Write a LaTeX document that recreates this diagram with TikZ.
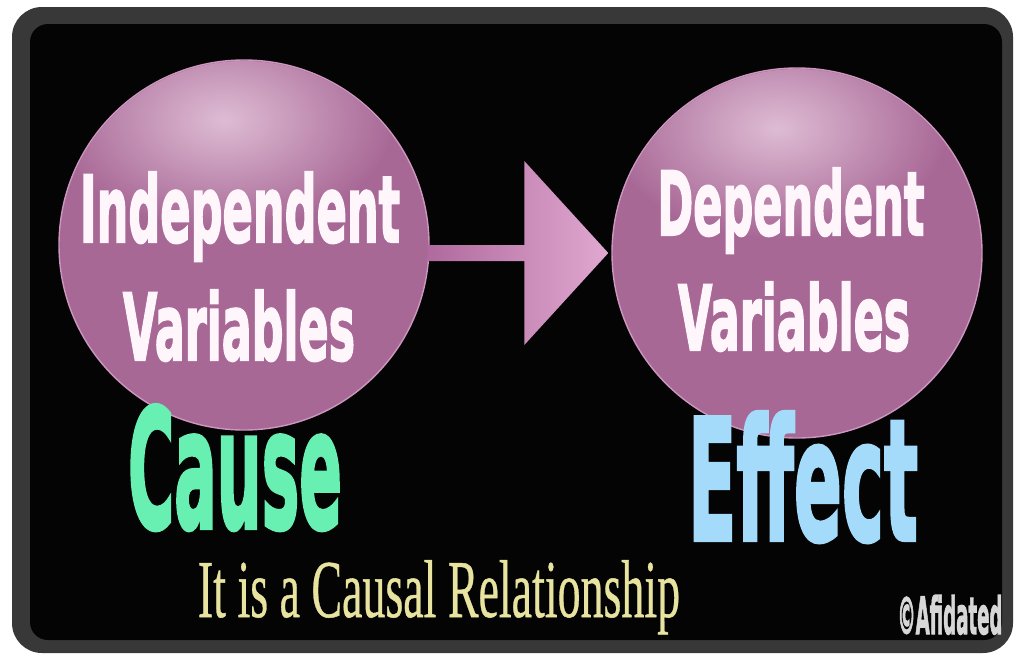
\documentclass[tikz,border=0pt]{standalone}
\usepackage{fontspec}
\usepackage{graphicx}
\setmainfont{Liberation Serif}
\newfontfamily\heavy{DejaVu Sans}[BoldFeatures={FakeBold=2.5}]
\newfontfamily\serifcap{Liberation Serif}[FakeBold=0.6]
\usetikzlibrary{calc}
\definecolor{framegray}{RGB}{56,56,56}
\definecolor{bgblack}{RGB}{4,4,4}
\definecolor{pinkL}{RGB}{222,188,212}
\definecolor{pinkM}{RGB}{168,104,150}
\definecolor{pinkRim}{RGB}{204,150,190}
\definecolor{arrowL}{RGB}{176,106,158}
\definecolor{arrowR}{RGB}{224,168,208}
\definecolor{causegreen}{RGB}{104,240,178}
\definecolor{effectblue}{RGB}{164,218,250}
\definecolor{captionyellow}{RGB}{232,228,160}
\definecolor{copygray}{RGB}{215,215,215}
\definecolor{bubbletext}{RGB}{255,246,252}
\tikzset{
  bubble/.style={circle, minimum size=370pt, inner sep=0pt,
    fill=pinkM, draw=pinkRim, line width=1.4pt},
  glow/.style={inner color=pinkL, outer color=pinkM},
  bubbletxt/.style={anchor=base, inner sep=0pt, text=bubbletext},
  bigword/.style={anchor=base, inner sep=0pt},
  arrowshape/.style={left color=arrowL, right color=arrowR}
}
\begin{document}
\begin{tikzpicture}[x=1pt,y=-1pt]
\useasboundingbox (0,0) rectangle (1014,656);
\fill[white] (0,0) rectangle (1014,656);
\fill[framegray, rounded corners=30pt] (12,7) rectangle (1013,653);
\fill[bgblack, rounded corners=18pt] (30,24) rectangle (1002,640);

% bubbles
\node[bubble] (ind) at (244,245) {};
\node[bubble] (dep) at (797,253) {};
\begin{scope}
  \clip (ind.center) circle (184pt);
  \shade[glow] ($(ind.center)+(-20,-125)$) ellipse (170pt and 110pt);
\end{scope}
\begin{scope}
  \clip (dep.center) circle (184pt);
  \shade[glow] ($(dep.center)+(-20,-125)$) ellipse (170pt and 110pt);
\end{scope}

% arrow between bubbles
\coordinate (s) at (ind.east |- dep.west);
\coordinate (t) at (dep.west);
\shade[arrowshape] ($(s)+(-2,-8)$) -- ($(t)+(-87,-8)$) -- ($(t)+(-87,-92)$) -- ($(t)+(-3,0)$)
  -- ($(t)+(-87,92)$) -- ($(t)+(-87,8)$) -- ($(s)+(-2,8)$) -- cycle;

% bubble texts
\node[bubbletxt] (indA) at (240,242) {\resizebox{320pt}{70pt}{\heavy\bfseries Independent}};
\node[bubbletxt] (indB) at (239,360) {\resizebox{232pt}{70pt}{\heavy\bfseries Variables}};
\node[bubbletxt] (depA) at (791,235) {\resizebox{267pt}{67pt}{\heavy\bfseries Dependent}};
\node[bubbletxt] (depB) at (794,350) {\resizebox{232pt}{68pt}{\heavy\bfseries Variables}};

% cause / effect
\node[bigword, text=causegreen] (cause) at (235,528) {\resizebox{214pt}{123pt}{\heavy\bfseries Cause}};
\node[bigword, text=effectblue] (effect) at (803,540) {\resizebox{230pt}{128pt}{\heavy\bfseries Effect}};

% caption
\node[bigword, text=captionyellow] (caption) at (439,617) {\resizebox{482pt}{57pt}{\serifcap It is a Causal Relationship}};
\node[bigword, text=copygray] (copy) at (950,634) {\resizebox{105pt}{39pt}{\heavy\bfseries ©Afidated}};
\end{tikzpicture}
\end{document}
